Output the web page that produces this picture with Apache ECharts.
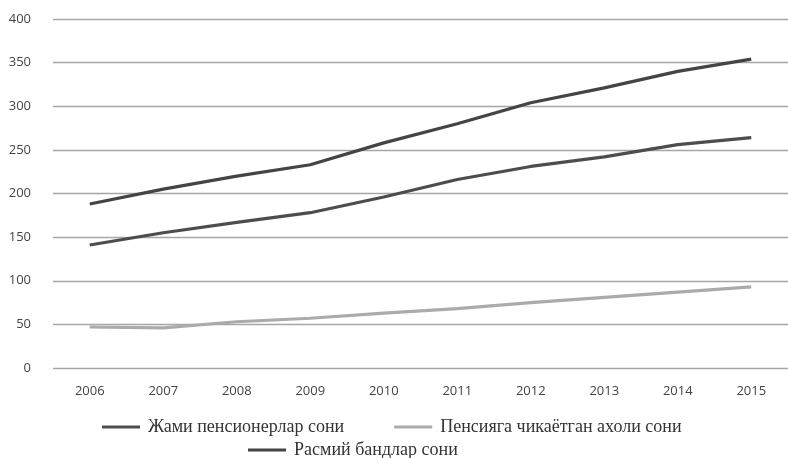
<!DOCTYPE html>
<html>
<head>
<meta charset="utf-8">
<script src="https://cdn.jsdelivr.net/npm/echarts@6/dist/echarts.min.js"></script>
<style>
  html, body { margin: 0; padding: 0; background: #fff; }
  #main { width: 788px; height: 458px; }
</style>
</head>
<body>
<div id="main"></div>
<script>
// years on the x axis
const years = ['2006', '2007', '2008', '2009', '2010', '2011', '2012', '2013', '2014', '2015'];

// series values
const jamiPensioner = [141, 155, 167, 178, 196, 216, 231, 242, 256, 264];
const pensiyagaChiqayotgan = [47, 46, 53, 57, 63, 68, 75, 81, 87, 93];
const rasmiyBandlar = [188, 205, 220, 233, 258, 280, 304, 321, 340, 354];

const names = ['Жами пенсионерлар сони', 'Пенсияга чикаётган ахоли сони', 'Расмий бандлар сони'];
const colors = ['#4d4d4d', '#ababab', '#444444'];

const chart = echarts.init(document.getElementById('main'));

function line(name, data, color) {
  return {
    name: name,
    type: 'line',
    data: data,
    symbol: 'none',
    smooth: false,
    lineStyle: { color: color, width: 3.2 },
    itemStyle: { color: color },
    animation: false
  };
}

const legendText = { fontFamily: 'Liberation Serif', fontSize: 18, color: '#333', padding: [0, 0, 0, 3] };

chart.setOption({
  backgroundColor: '#fff',
  grid: { left: 53, right: -2, top: 19, bottom: 90 },
  legend: [{
    data: [names[0], names[1]],
    left: 97,
    top: 413,
    icon: 'rect',
    itemWidth: 38,
    itemHeight: 3,
    itemGap: 50,
    textStyle: legendText
  }, {
    data: [names[2]],
    left: 243,
    top: 436,
    icon: 'rect',
    itemWidth: 38,
    itemHeight: 3,
    textStyle: legendText
  }],
  xAxis: {
    type: 'category',
    data: years,
    boundaryGap: true,
    axisLine: { show: false },
    axisTick: { show: false },
    axisLabel: { color: '#444', fontSize: 13, fontFamily: 'Open Sans', margin: 17 }
  },
  yAxis: {
    type: 'value',
    min: 0,
    max: 400,
    interval: 50,
    axisLine: { show: false },
    axisTick: { show: false },
    axisLabel: { color: '#444', fontSize: 13, fontFamily: 'Open Sans', margin: 22 },
    splitLine: { lineStyle: { color: '#a6a6a6', width: 1.3 } }
  },
  series: [
    line(names[0], jamiPensioner, colors[0]),
    line(names[1], pensiyagaChiqayotgan, colors[1]),
    line(names[2], rasmiyBandlar, colors[2])
  ]
});
</script>
</body>
</html>
